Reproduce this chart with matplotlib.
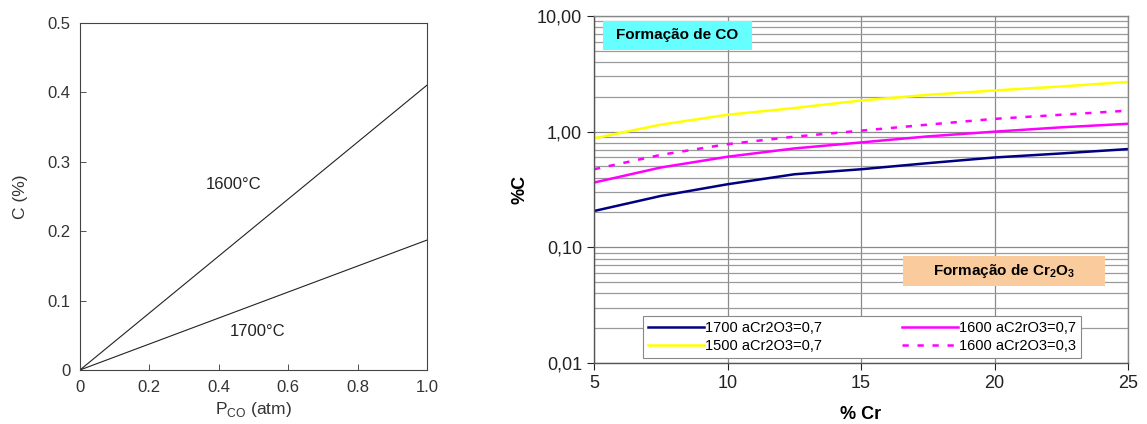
import numpy as np
import matplotlib.pyplot as plt
from matplotlib.patches import Rectangle
from matplotlib.ticker import FixedLocator, LogLocator, NullFormatter

plt.rcParams['font.family'] = ['Liberation Sans', 'DejaVu Sans']
plt.rcParams['mathtext.fontset'] = 'custom'
plt.rcParams['mathtext.rm'] = 'Liberation Sans'
plt.rcParams['mathtext.bf'] = 'Liberation Sans:bold'

# Left panel: carbon content vs CO partial pressure
p_co = [0.0, 1.0]
c_1600 = [0.0, 0.41]
c_1700 = [0.0, 0.187]

# Right panel: %C vs %Cr for several temperatures / Cr2O3 activities
cr = [5, 7.5, 10, 12.5, 15, 17.5, 20, 22.5, 25]
c_1700_a07 = [0.206, 0.278, 0.351, 0.428, 0.473, 0.534, 0.598, 0.648, 0.707]
c_1500_a07 = [0.875, 1.15, 1.40, 1.60, 1.86, 2.08, 2.27, 2.46, 2.69]
c_1600_a07 = [0.363, 0.49, 0.607, 0.716, 0.807, 0.91, 1.00, 1.09, 1.17]
c_1600_a03 = [0.473, 0.63, 0.78, 0.905, 1.02, 1.15, 1.29, 1.40, 1.52]

fig = plt.figure(figsize=(11.47, 4.24), dpi=100)

# ---- left chart ----
ax1 = fig.add_axes([0.0697, 0.1274, 0.3025, 0.819])
ax1.plot(p_co, c_1600, color='#222222', lw=0.8)
ax1.plot(p_co, c_1700, color='#222222', lw=0.8)
ax1.set_xlim(0, 1.0)
ax1.set_ylim(0, 0.5)
ax1.set_xticks([0, 0.2, 0.4, 0.6, 0.8, 1.0])
ax1.set_xticklabels(['0', '0.2', '0.4', '0.6', '0.8', '1.0'])
ax1.set_yticks([0, 0.1, 0.2, 0.3, 0.4, 0.5])
ax1.set_yticklabels(['0', '0.1', '0.2', '0.3', '0.4', '0.5'])
ax1.tick_params(direction='in', length=4, width=0.6, labelsize=12,
                colors='#333333', pad=7)
for s in ax1.spines.values():
    s.set_linewidth(0.8)
    s.set_color('#444444')
ax1.set_xlabel(r'P$_{\mathrm{CO}}$ (atm)', fontsize=12.5, color='#333333', labelpad=4)
ax1.set_ylabel('C (%)', fontsize=12.5, color='#333333', labelpad=14)
ax1.text(0.363, 0.267, '1600°C', fontsize=12, color='#222222', va='center')
ax1.text(0.432, 0.055, '1700°C', fontsize=12, color='#222222', va='center')

# ---- right chart ----
ax2 = fig.add_axes([0.5179, 0.1439, 0.4656, 0.8184])
ax2.set_yscale('log')
ax2.set_xlim(5, 25)
ax2.set_ylim(0.01, 10)
ax2.yaxis.set_major_locator(FixedLocator([0.01, 0.1, 1, 10]))
ax2.yaxis.set_minor_locator(LogLocator(base=10, subs=np.arange(2, 10)))
ax2.yaxis.set_minor_formatter(NullFormatter())
ax2.set_yticklabels(['0,01', '0,10', '1,00', '10,00'])
ax2.set_xticks([5, 10, 15, 20, 25])
ax2.grid(which='major', axis='both', color='#8a8a8a', lw=0.9)
ax2.grid(which='minor', axis='y', color='#9a9a9a', lw=0.9)
ax2.set_axisbelow(True)
ax2.tick_params(which='major', direction='out', length=5, width=0.8,
                labelsize=13, colors='#222222')
ax2.tick_params(which='minor', length=0)
for s in ax2.spines.values():
    s.set_color('#888888')
    s.set_linewidth(1.0)
ax2.spines['left'].set_color('#555555')
ax2.spines['bottom'].set_color('#555555')

l1, = ax2.plot(cr, c_1700_a07, color='#000080', lw=1.8)
l2, = ax2.plot(cr, c_1600_a07, color='#FF00FF', lw=1.8)
l3, = ax2.plot(cr, c_1500_a07, color='#FFFF00', lw=1.8)
l4, = ax2.plot(cr, c_1600_a03, color='#FF00FF', lw=1.8, ls=(0, (2.5, 3.5)))

ax2.set_xlabel('% Cr', fontsize=13, fontweight='bold', labelpad=10)
ax2.set_ylabel('%C', fontsize=13, fontweight='bold', labelpad=6)

# annotation boxes
ax2.add_patch(Rectangle((0.017, 0.902), 0.279, 0.084, transform=ax2.transAxes,
                        facecolor='#66FFFF', edgecolor='none', zorder=3))
ax2.text(0.1565, 0.944, 'Formação de CO', transform=ax2.transAxes,
         fontsize=11, fontweight='bold', ha='center', va='center', zorder=4)
ax2.add_patch(Rectangle((0.579, 0.222), 0.378, 0.086, transform=ax2.transAxes,
                        facecolor='#FACB9C', edgecolor='none', zorder=3))
ax2.text(0.768, 0.265, r'Formação de Cr$_{\mathbf{2}}$O$_{\mathbf{3}}$',
         transform=ax2.transAxes, fontsize=11, fontweight='bold',
         ha='center', va='center', zorder=4)

leg = ax2.legend([l1, l3, l2, l4],
                 ['1700 aCr2O3=0,7', '1500 aCr2O3=0,7',
                  '1600 aC2rO3=0,7', '1600 aCr2O3=0,3'],
                 ncol=2, loc='lower left', mode='expand',
                 bbox_to_anchor=(0.092, 0.014, 0.82, 0.12), borderaxespad=0,
                 fontsize=10.5, handlelength=3.8, handletextpad=0.1,
                 columnspacing=2.5, labelspacing=0.25, borderpad=0.35,
                 fancybox=False, framealpha=1, edgecolor='#888888')
leg.get_frame().set_linewidth(0.8)

fig.savefig('out.png', dpi=100)
